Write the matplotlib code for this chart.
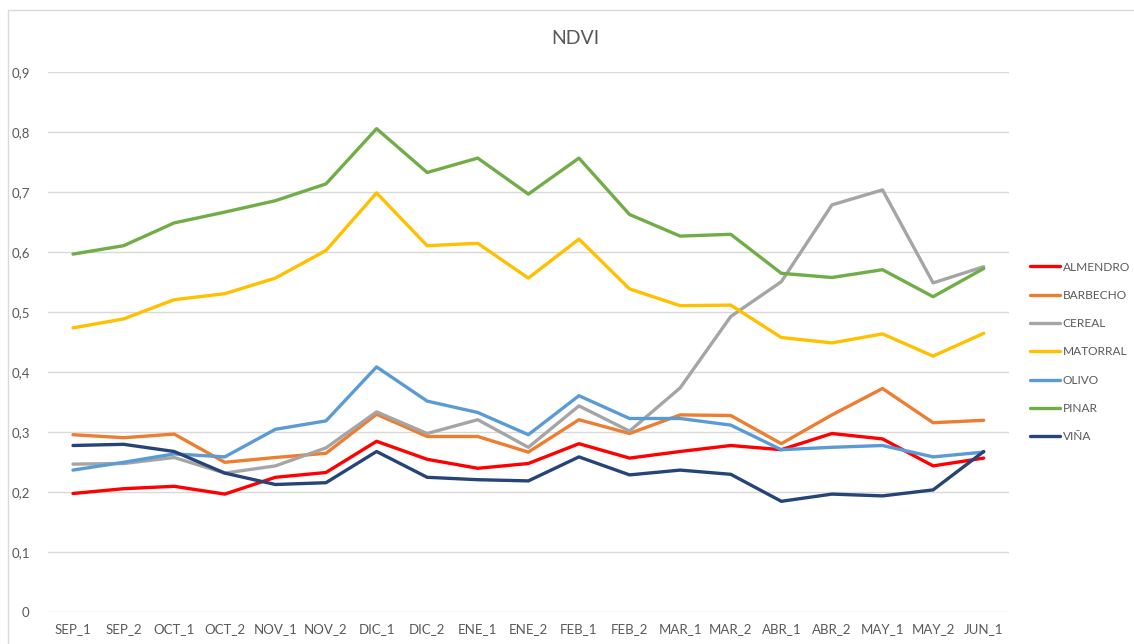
import matplotlib
matplotlib.use("Agg")
import matplotlib.pyplot as plt
from matplotlib.patches import Rectangle
from matplotlib.ticker import FuncFormatter

categories = ["SEP_1", "SEP_2", "OCT_1", "OCT_2", "NOV_1", "NOV_2", "DIC_1", "DIC_2",
              "ENE_1", "ENE_2", "FEB_1", "FEB_2", "MAR_1", "MAR_2", "ABR_1", "ABR_2",
              "MAY_1", "MAY_2", "JUN_1"]

almendro = [0.197, 0.205, 0.209, 0.196, 0.224, 0.232, 0.284, 0.254, 0.239, 0.247,
            0.280, 0.256, 0.267, 0.277, 0.270, 0.297, 0.288, 0.243, 0.256]
barbecho = [0.295, 0.290, 0.296, 0.249, 0.257, 0.264, 0.329, 0.292, 0.292, 0.266,
            0.320, 0.297, 0.328, 0.327, 0.280, 0.328, 0.372, 0.315, 0.319]
cereal = [0.246, 0.247, 0.257, 0.231, 0.243, 0.273, 0.333, 0.297, 0.320, 0.274,
          0.343, 0.301, 0.373, 0.492, 0.550, 0.678, 0.703, 0.548, 0.575]
matorral = [0.473, 0.488, 0.520, 0.530, 0.556, 0.602, 0.698, 0.610, 0.614, 0.556,
            0.621, 0.538, 0.510, 0.511, 0.457, 0.448, 0.463, 0.426, 0.464]
olivo = [0.236, 0.249, 0.263, 0.258, 0.304, 0.318, 0.408, 0.351, 0.332, 0.295,
         0.360, 0.322, 0.322, 0.311, 0.270, 0.274, 0.277, 0.258, 0.266]
pinar = [0.596, 0.610, 0.648, 0.666, 0.685, 0.713, 0.805, 0.732, 0.756, 0.696,
         0.756, 0.662, 0.626, 0.629, 0.564, 0.557, 0.570, 0.525, 0.572]
vina = [0.277, 0.279, 0.267, 0.231, 0.212, 0.215, 0.267, 0.224, 0.220, 0.218,
        0.258, 0.228, 0.236, 0.229, 0.184, 0.196, 0.193, 0.203, 0.267]

series_names = ["ALMENDRO", "BARBECHO", "CEREAL", "MATORRAL", "OLIVO", "PINAR", "VIÑA"]
series_values = [almendro, barbecho, cereal, matorral, olivo, pinar, vina]
series_colors = ["#FF0000", "#ED7D31", "#A5A5A5", "#FFC000", "#5B9BD5", "#70AD47", "#264478"]

y_ticks = [0, 0.1, 0.2, 0.3, 0.4, 0.5, 0.6, 0.7, 0.8, 0.9]

plt.rcParams['font.family'] = ['Lato', 'DejaVu Sans']
W, H = 1134, 644
fig = plt.figure(figsize=(W / 100, H / 100), dpi=100)
fig.patch.set_facecolor("white")

ax = fig.add_axes([47.7 / W, 1 - 611.7 / H, (1009 - 47.7) / W, 540 / H])
x = list(range(len(categories)))
lines = []
for name, vals, col in zip(series_names, series_values, series_colors):
    ln, = ax.plot(x, vals, color=col, lw=2.4, label=name, solid_capstyle='round',
                  solid_joinstyle='round')
    lines.append(ln)

ax.set_xlim(-0.5, len(categories) - 0.5)
ax.set_ylim(0, 0.9)
ax.set_yticks(y_ticks)
ax.yaxis.set_major_formatter(FuncFormatter(lambda v, p: ("%g" % round(v, 1)).replace(".", ",")))
ax.set_xticks(x)
ax.set_xticklabels(categories)
ax.grid(axis='y', color='#D9D9D9', lw=1)
ax.set_axisbelow(True)
for s in ax.spines.values():
    s.set_visible(False)
ax.tick_params(axis='both', length=0, colors='#595959', labelsize=9.5)
ax.tick_params(axis='y', pad=13)
ax.tick_params(axis='x', pad=8)

fig.text(575.5 / W, 1 - 39 / H, "NDVI", ha='center', va='center', fontsize=14, color='#595959')

leg = fig.legend(handles=lines, loc='center left', bbox_to_anchor=(1030 / W, 1 - 352 / H),
                 frameon=False, fontsize=8.6, handlelength=2.5, handletextpad=0.25,
                 labelspacing=1.45, labelcolor='#595959', borderaxespad=0, borderpad=0)

fig.patches.append(Rectangle((8 / W, -0.1), 2, 1 - 10 / H + 0.1, transform=fig.transFigure,
                             fill=False, edgecolor='#D9D9D9', lw=1))

fig.savefig("out.png", dpi=100)
